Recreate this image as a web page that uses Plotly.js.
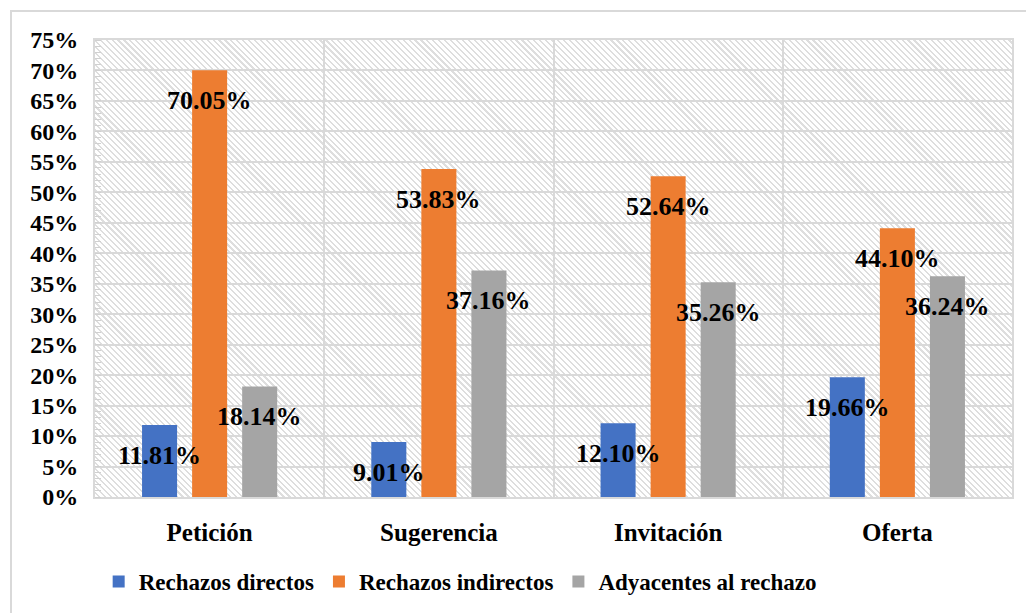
<!DOCTYPE html>
<html>
<head>
<meta charset="utf-8">
<script src="https://cdn.plot.ly/plotly-3.0.1.min.js"></script>
<style>
  html, body { margin:0; padding:0; background:#ffffff; }
  #wrap { position:relative; width:1026px; height:613px; overflow:hidden; background:#fff; }
  #frame { position:absolute; left:10px; top:10px; width:1040px; height:640px; border:2px solid #d9d9d9; box-sizing:border-box; }
  #hatch { position:absolute; left:95px; top:40px; width:917px; height:457px;
    background: repeating-linear-gradient(45deg, #ffffff 0px, #ffffff 2.7px, #dedede 2.7px, #dedede 4.2px); }
  #chart { position:absolute; left:0; top:0; width:1026px; height:613px; }
</style>
</head>
<body>
<div id="wrap">
  <div id="frame"></div>
  <div id="hatch"></div>
  <div id="chart"></div>
</div>
<script>
const categories = ["Petición", "Sugerencia", "Invitación", "Oferta"];
const rechazosDirectos = [11.81, 9.01, 12.10, 19.66];
const rechazosIndirectos = [70.05, 53.83, 52.64, 44.10];
const adyacentesRechazo = [18.14, 37.16, 35.26, 36.24];
const seriesNames = ["Rechazos directos", "Rechazos indirectos", "Adyacentes al rechazo"];
const seriesColors = ["#4472C4", "#ED7D31", "#A5A5A5"];
const yTickVals = [0,5,10,15,20,25,30,35,40,45,50,55,60,65,70,75];

const allSeries = [rechazosDirectos, rechazosIndirectos, adyacentesRechazo];
const serif = "Liberation Serif";

const traces = allSeries.map((vals, i) => ({
  type: "bar",
  name: seriesNames[i],
  x: categories,
  y: vals,
  marker: { color: seriesColors[i] },
  hoverinfo: "none"
}));

const offsets = [-50, 0, 50];
const annotations = [];
allSeries.forEach((vals, i) => {
  vals.forEach((v, j) => {
    annotations.push({
      x: categories[j], y: v, xref: "x", yref: "y",
      text: "<b>" + v.toFixed(2) + "%</b>",
      showarrow: false,
      xshift: offsets[i], yshift: -30,
      xanchor: "center", yanchor: "middle",
      font: { family: serif, size: 26, color: "#000" }
    });
  });
});

const layout = {
  width: 1026, height: 613,
  margin: { l: 95, r: 14, t: 40, b: 116, autoexpand: false },
  paper_bgcolor: "rgba(0,0,0,0)",
  plot_bgcolor: "rgba(0,0,0,0)",
  font: { family: serif, color: "#000" },
  barmode: "group",
  bargap: 0.345,
  bargroupgap: 0.3,
  showlegend: true,
  legend: {
    orientation: "h", x: 0.004, xanchor: "left", y: -0.185, yanchor: "middle",
    font: { family: serif, size: 23, color: "#000", weight: "bold" },
    itemwidth: 30, tracegroupgap: 0
  },
  xaxis: {
    type: "category",
    tickson: "boundaries",
    showgrid: true, gridcolor: "#d9d9d9", gridwidth: 2,
    showline: true, linecolor: "#d9d9d9", linewidth: 2, mirror: true,
    ticks: "", ticklen: 0, ticklabelstandoff: 12,
    tickfont: { family: serif, size: 25, color: "#000", weight: "bold" },
    fixedrange: true
  },
  yaxis: {
    range: [0, 75],
    tickvals: yTickVals,
    ticktext: yTickVals.map(v => v + "%"),
    showgrid: true, gridcolor: "#d9d9d9", gridwidth: 2,
    showline: true, linecolor: "#d9d9d9", linewidth: 2, mirror: true,
    zeroline: false,
    ticks: "", ticklabelstandoff: 10,
    minor: { dtick: 1, ticks: "inside", ticklen: 6, tickcolor: "#d0d0d0", tickwidth: 1, showgrid: false },
    tickfont: { family: serif, size: 24, color: "#000", weight: "bold" },
    fixedrange: true
  },
  annotations: annotations
};

Plotly.newPlot("chart", traces, layout, { staticPlot: true, displayModeBar: false });
</script>
</body>
</html>
